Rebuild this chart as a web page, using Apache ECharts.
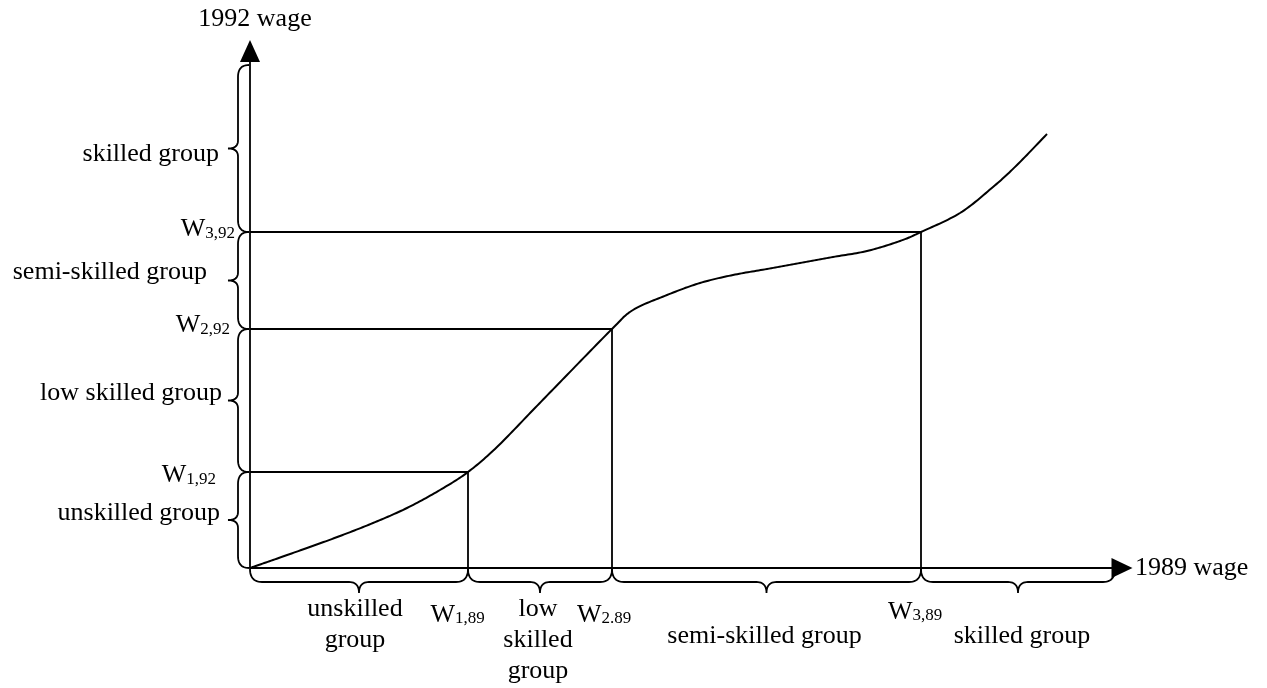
<!DOCTYPE html>
<html><head><meta charset="utf-8">
<script src="https://cdn.jsdelivr.net/npm/echarts@6/dist/echarts.min.js"></script>
<style>html,body{margin:0;padding:0;background:#fff}#c{width:1267px;height:688px}</style>
</head><body><div id="c"></div>
<script>
// ---- data (abstract wage units) ----
const curve1989 = [0, 23, 57, 90, 123, 157, 190, 218, 247, 283, 317, 362, 383, 417, 450, 483, 517, 550, 583, 617, 650, 671, 710, 743, 767, 797];
const curve1992 = [0, 8, 20, 32, 45, 60, 78, 96, 121, 158, 193, 239, 258, 273, 285, 293, 299, 305, 311, 317, 327, 336, 355, 381, 403, 434];
const cut1989 = [218, 362, 671];
const cut1992 = [96, 239, 336];
const cut1989Subs = ['1,89', '2.89', '3,89'];
const cut1992Subs = ['1,92', '2,92', '3,92'];
const xGroups = ['unskilled\ngroup', 'low\nskilled\ngroup', 'semi-skilled group', 'skilled group'];
const yGroups = ['unskilled group', 'low skilled group', 'semi-skilled group', 'skilled group'];
const axisMax1989 = 872, axisMax1992 = 517;
const braceEnd1989 = 865, braceEnd1992 = 503;
const xAxisName = '1989 wage', yAxisName = '1992 wage';

// ---- layout / style ----
const FONT = '"Liberation Serif", "Times New Roman", serif';
const FS = 26, SUB = 17, LW = 1.8;
const Y_LABEL_NUDGE = [[-8, -7], [-6, -7], [-21, -8], [-9, 6]];
const X_LABEL_NUDGE = [[-4, 25.5], [-2, 25.5], [-2, 52.5], [4, 52.5]];
const W92_NUDGE = [[-34, 7.5], [-20, 0.5], [-15, 1.5]];
const W89_NUDGE = [[-37.5, 51], [-35, 51], [-33, 48]];

function addQuad(pts, p0, c, p1) {
  const n = 12;
  for (let i = 1; i <= n; i++) {
    const t = i / n, u = 1 - t;
    pts.push([u * u * p0[0] + 2 * u * t * c[0] + t * t * p1[0], u * u * p0[1] + 2 * u * t * c[1] + t * t * p1[1]]);
  }
}

const yBounds = [0].concat(cut1992, [braceEnd1992]);
const xBounds = [0].concat(cut1989, [braceEnd1989]);
const yBraceData = yGroups.map((g, i) => [yBounds[i], yBounds[i + 1]]);
const xBraceData = xGroups.map((g, i) => [xBounds[i], xBounds[i + 1]]);
const curveData = curve1989.map((x, i) => [x, curve1992[i]]);

// smooth curve through the data points (Catmull-Rom drawn in pixel space from api.coord)
function renderCurve(params, api) {
  if (params.dataIndex !== 0) return null;
  const P = curveData.map(d => api.coord(d));
  const n = P.length, pts = [P[0].slice()];
  for (let i = 0; i < n - 1; i++) {
    const p0 = P[Math.max(i - 1, 0)], p1 = P[i], p2 = P[i + 1], p3 = P[Math.min(i + 2, n - 1)];
    const c1 = [p1[0] + (p2[0] - p0[0]) / 6, p1[1] + (p2[1] - p0[1]) / 6];
    const c2 = [p2[0] - (p3[0] - p1[0]) / 6, p2[1] - (p3[1] - p1[1]) / 6];
    const m = 16;
    for (let k = 1; k <= m; k++) {
      const t = k / m, u = 1 - t;
      pts.push([
        u * u * u * p1[0] + 3 * u * u * t * c1[0] + 3 * u * t * t * c2[0] + t * t * t * p2[0],
        u * u * u * p1[1] + 3 * u * u * t * c1[1] + 3 * u * t * t * c2[1] + t * t * t * p2[1]
      ]);
    }
  }
  return { type: 'polyline', shape: { points: pts }, style: { stroke: '#000', lineWidth: 2, fill: null, lineJoin: 'round' } };
}

function renderYBrace(params, api) {
  const i = params.dataIndex;
  const lo = api.coord([0, api.value(0)]), hi = api.coord([0, api.value(1)]);
  const ax = lo[0], yb = lo[1], yt = hi[1], ym = (yb + yt) / 2;
  const sx = ax - 12, tx = ax - 22, R = 12, r = 8;
  const pts = [[ax - 1, yt]];
  addQuad(pts, [ax - 1, yt], [sx, yt], [sx, yt + R]);
  pts.push([sx, ym - r]);
  addQuad(pts, [sx, ym - r], [sx, ym], [tx, ym]);
  addQuad(pts, [tx, ym], [sx, ym], [sx, ym + r]);
  pts.push([sx, yb - R]);
  addQuad(pts, [sx, yb - R], [sx, yb], [ax - 1, yb]);
  const nd = Y_LABEL_NUDGE[i];
  return { type: 'group', children: [
    { type: 'polyline', shape: { points: pts }, style: { stroke: '#000', lineWidth: LW, fill: null } },
    { type: 'text', x: tx + nd[0], y: ym + nd[1], style: { text: yGroups[i], fontSize: FS, fontFamily: FONT, fill: '#000', align: 'right', verticalAlign: 'middle' } }
  ]};
}

function renderXBrace(params, api) {
  const i = params.dataIndex;
  const a = api.coord([api.value(0), 0]), b = api.coord([api.value(1), 0]);
  const ay = a[1], xa = a[0], xb = b[0], xm = (xa + xb) / 2;
  const sy = ay + 14, ty = ay + 25, R = 12, r = 10;
  const pts = [[xa, ay + 1]];
  addQuad(pts, [xa, ay + 1], [xa, sy], [xa + R, sy]);
  pts.push([xm - r, sy]);
  addQuad(pts, [xm - r, sy], [xm, sy], [xm, ty]);
  addQuad(pts, [xm, ty], [xm, sy], [xm + r, sy]);
  pts.push([xb - R, sy]);
  addQuad(pts, [xb - R, sy], [xb, sy], [xb, ay + 1]);
  const nd = X_LABEL_NUDGE[i];
  return { type: 'group', children: [
    { type: 'polyline', shape: { points: pts }, style: { stroke: '#000', lineWidth: LW, fill: null } },
    { type: 'text', x: xm + nd[0], y: ay + nd[1], style: { text: xGroups[i], fontSize: FS, fontFamily: FONT, lineHeight: 31, fill: '#000', align: 'center', verticalAlign: 'top' } }
  ]};
}

const RICH = {
  w: { fontSize: FS, fontFamily: FONT, lineHeight: 18, verticalAlign: 'top', fill: '#000' },
  s: { fontSize: SUB, fontFamily: FONT, lineHeight: 34, fill: '#000' }
};

function renderWLabels(params, api) {
  const i = params.dataIndex;
  const p = api.coord([api.value(0), api.value(1)]);
  const o = api.coord([0, 0]);
  const a = W92_NUDGE[i], b = W89_NUDGE[i];
  return { type: 'group', children: [
    { type: 'text', x: o[0] + a[0], y: p[1] + a[1], style: { text: '{w|W}{s|' + cut1992Subs[i] + '}', rich: RICH, fontSize: FS, fontFamily: FONT, align: 'right', verticalAlign: 'middle', fill: '#000' } },
    { type: 'text', x: p[0] + b[0], y: o[1] + b[1], style: { text: '{w|W}{s|' + cut1989Subs[i] + '}', rich: RICH, fontSize: FS, fontFamily: FONT, align: 'left', verticalAlign: 'middle', fill: '#000' } }
  ]};
}

const axisCommon = {
  type: 'value',
  axisTick: { show: false }, axisLabel: { show: false }, splitLine: { show: false },
  nameLocation: 'end'
};

const series = [];
cut1989.forEach((x, i) => {
  series.push({
    type: 'line', data: [[0, cut1992[i]], [x, cut1992[i]], [x, 0]],
    showSymbol: false, symbol: 'none', lineStyle: { color: '#000', width: LW }, silent: true, z: 2
  });
});
series.push({ type: 'custom', renderItem: renderCurve, data: curveData, silent: true, clip: false, z: 3 });
series.push({ type: 'custom', renderItem: renderYBrace, data: yBraceData, silent: true, clip: false });
series.push({ type: 'custom', renderItem: renderXBrace, data: xBraceData, silent: true, clip: false });
series.push({ type: 'custom', renderItem: renderWLabels, data: cut1989.map((x, i) => [x, cut1992[i]]), silent: true, clip: false });

const chart = echarts.init(document.getElementById('c'), null, { renderer: 'canvas' });
chart.setOption({
  animation: false,
  backgroundColor: '#fff',
  grid: { left: 250, right: 145, top: 51, bottom: 120, containLabel: false },
  xAxis: Object.assign({}, axisCommon, {
    min: 0, max: axisMax1989, name: xAxisName, nameGap: 13,
    nameTextStyle: { fontFamily: FONT, fontSize: FS, color: '#000', align: 'left', verticalAlign: 'middle', padding: [2, 0, 0, 0] },
    axisLine: { show: true, onZero: false, symbol: ['none', 'triangle'], symbolSize: [20, 21], lineStyle: { color: '#000', width: 1.8 } }
  }),
  yAxis: Object.assign({}, axisCommon, {
    min: 0, max: axisMax1992, name: yAxisName, nameGap: 32,
    nameTextStyle: { fontFamily: FONT, fontSize: FS, color: '#000', align: 'center', verticalAlign: 'middle', padding: [0, 0, 0, 10] },
    axisLine: { show: true, onZero: false, symbol: ['none', 'triangle'], symbolSize: [20, 22], lineStyle: { color: '#000', width: 1.8 } }
  }),
  series: series
});
</script></body></html>
